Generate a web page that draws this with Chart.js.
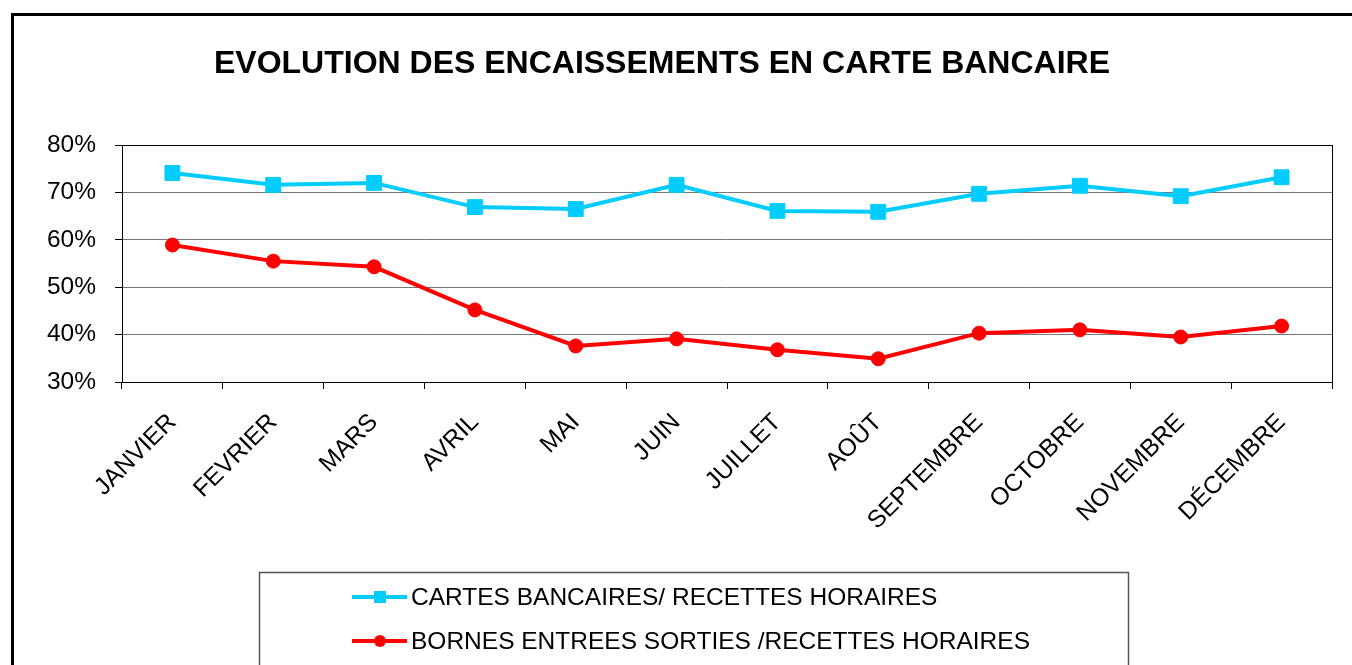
<!DOCTYPE html>
<html>
<head>
<meta charset="utf-8">
<title>Evolution des encaissements en carte bancaire</title>
<script src="https://cdn.jsdelivr.net/npm/chart.js@4.4.1/dist/chart.umd.min.js"></script>
<style>
  html, body { margin: 0; padding: 0; background: #fff; }
  #wrap { width: 1352px; height: 665px; position: relative; }
</style>
</head>
<body>
<div id="wrap"><canvas id="mycanvas"></canvas></div>
<script>
// data
var titre = 'EVOLUTION DES ENCAISSEMENTS EN CARTE BANCAIRE';
var mois = ['JANVIER', 'FEVRIER', 'MARS', 'AVRIL', 'MAI', 'JUIN', 'JUILLET', 'AOÛT',
            'SEPTEMBRE', 'OCTOBRE', 'NOVEMBRE', 'DÉCEMBRE'];
var cartesLabel = 'CARTES BANCAIRES/ RECETTES HORAIRES';
var cartes = [74.1, 71.6, 72.0, 66.9, 66.5, 71.6, 66.1, 65.9, 69.7, 71.4, 69.2, 73.2];
var bornesLabel = 'BORNES ENTREES SORTIES /RECETTES HORAIRES';
var bornes = [58.9, 55.5, 54.3, 45.2, 37.6, 39.1, 36.8, 34.9, 40.3, 41.0, 39.5, 41.8];
var yMin = 30, yMax = 80, yStep = 10;

var police = '"Liberation Sans", Arial, sans-serif';

// frame, title, plot border and legend box
var decor = {
    id: 'decor',
    beforeDraw: function(chart) {
        var ctx = chart.ctx;
        ctx.save();
        ctx.fillStyle = '#fff';
        ctx.fillRect(0, 0, chart.width, chart.height);
        ctx.restore();
    },
    afterDraw: function(chart) {
        var ctx = chart.ctx;
        var a = chart.chartArea;
        ctx.save();
        // outer frame
        ctx.strokeStyle = '#000';
        ctx.lineWidth = 3;
        ctx.strokeRect(12.5, 14.5, 1400, 700);
        // plot border
        ctx.lineWidth = 1;
        ctx.strokeStyle = '#000';
        ctx.strokeRect(Math.round(a.left) + 0.5, Math.round(a.top) + 0.5,
                       Math.round(a.right - a.left), Math.round(a.bottom - a.top));
        // title
        ctx.fillStyle = '#000';
        ctx.font = 'bold 32px ' + police;
        ctx.textAlign = 'center';
        ctx.textBaseline = 'middle';
        ctx.fillText(titre, 662, 64);
        // legend
        ctx.strokeStyle = '#555';
        ctx.lineWidth = 1.5;
        ctx.strokeRect(259.5, 572.5, 869, 200);
        ctx.font = '24.5px ' + police;
        ctx.textAlign = 'left';
        var ys = [597, 641];
        chart.data.datasets.forEach(function(ds, i) {
            var y = ys[i];
            ctx.strokeStyle = ds.borderColor;
            ctx.lineWidth = 4;
            ctx.beginPath();
            ctx.moveTo(352, y);
            ctx.lineTo(407, y);
            ctx.stroke();
            ctx.fillStyle = ds.borderColor;
            if (ds.pointStyle === 'rect') {
                ctx.fillRect(374, y - 6, 12, 12);
            } else {
                ctx.beginPath();
                ctx.arc(380, y, 6, 0, Math.PI * 2);
                ctx.fill();
            }
            ctx.fillStyle = '#000';
            ctx.fillText(ds.label, 411, y + 1);
        });
        ctx.restore();
    }
};

var ctx = document.getElementById('mycanvas');
var myChart = new Chart(ctx, {
    type: 'line',
    data: {
        labels: mois,
        datasets: [{
            label: cartesLabel,
            data: cartes,
            borderColor: '#00CCFF',
            backgroundColor: '#00CCFF',
            borderWidth: 4,
            pointStyle: 'rect',
            pointRadius: 10.5,
            pointBorderWidth: 1,
            tension: 0
        }, {
            label: bornesLabel,
            data: bornes,
            borderColor: '#FF0000',
            backgroundColor: '#FF0000',
            borderWidth: 4,
            pointStyle: 'circle',
            pointRadius: 7,
            pointBorderWidth: 1,
            tension: 0
        }]
    },
    options: {
        responsive: true,
        maintainAspectRatio: false,
        animation: false,
        layout: { padding: { left: 1, top: 145, right: 20, bottom: 0 } },
        plugins: {
            legend: { display: false },
            title: { display: false },
            tooltip: { enabled: false }
        },
        scales: {
            x: {
                offset: true,
                afterFit: function(scale) { scale.height = 283; },
                grid: {
                    offset: true,
                    drawOnChartArea: false,
                    drawTicks: true,
                    tickLength: 7,
                    tickColor: '#000'
                },
                border: { color: '#000', width: 1 },
                ticks: {
                    autoSkip: false,
                    minRotation: 45,
                    maxRotation: 45,
                    padding: 19,
                    color: '#000',
                    font: { family: police, size: 24.5 }
                }
            },
            y: {
                min: yMin,
                max: yMax,
                afterFit: function(scale) { scale.width = 121; },
                grid: {
                    color: '#777',
                    tickLength: 7,
                    tickColor: '#000'
                },
                border: { color: '#000', width: 1 },
                ticks: {
                    stepSize: yStep,
                    padding: 19,
                    color: '#000',
                    font: { family: police, size: 24.5 },
                    callback: function(v) { return v + '%'; }
                }
            }
        }
    },
    plugins: [decor]
});
</script>
</body>
</html>
